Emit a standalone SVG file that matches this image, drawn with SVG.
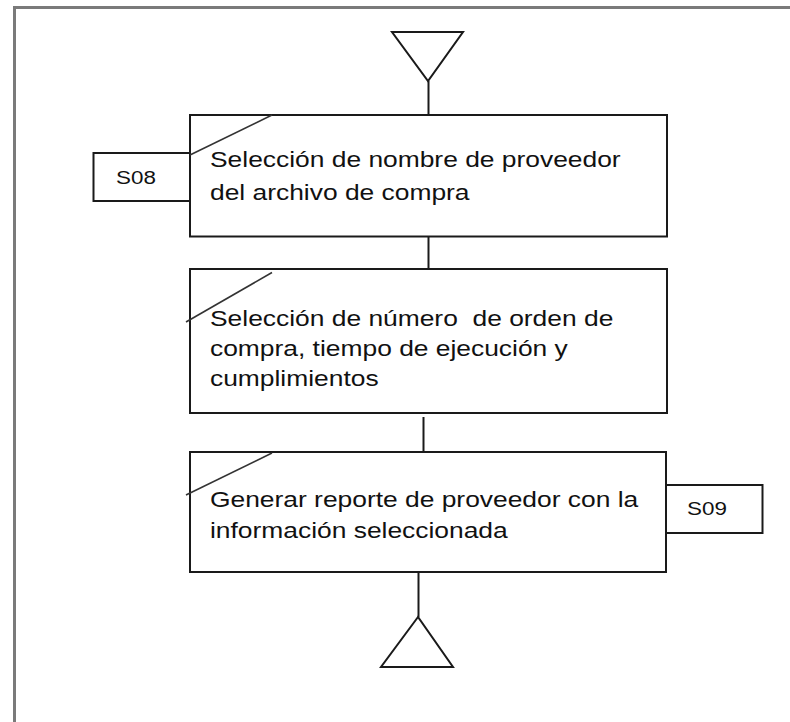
<svg xmlns="http://www.w3.org/2000/svg" width="790" height="722" viewBox="0 0 790 722">
<style>
.frame{fill:none;stroke:#7a7a7a;stroke-width:3}
.box{fill:#fff;stroke:#1a1a1a;stroke-width:2}
.ln{fill:none;stroke:#1a1a1a;stroke-width:2}
.diag{fill:none;stroke:#333;stroke-width:1.6}
.t{font-family:"Liberation Sans",Arial,sans-serif;font-size:22px;fill:#111;white-space:pre}
.s{font-family:"Liberation Sans",Arial,sans-serif;font-size:19px;fill:#111}
</style>
<rect width="790" height="722" fill="#fff"/>
<path class="frame" d="M14.5 722 V7.5 H790"/>
<g id="connectors">
<line class="ln" x1="428.5" y1="81" x2="428.5" y2="115"/>
<line class="ln" x1="428.5" y1="236" x2="428.5" y2="269"/>
<line class="ln" x1="423.5" y1="417" x2="423.5" y2="452"/>
<line class="ln" x1="418.5" y1="572" x2="418.5" y2="617"/>
</g>
<g id="start">
<polygon class="ln" points="392,32 463,32 428,81"/>
</g>
<g id="s08">
<rect class="box" x="93.5" y="153" width="96.5" height="48"/>
<text class="s" transform="translate(116 184) scale(1.18 1)">S08</text>
</g>
<g id="p1">
<rect class="box" x="190" y="115" width="477" height="121.5"/>
<line class="diag" x1="190" y1="155" x2="272" y2="115"/>
<text class="t" transform="translate(210 167) scale(1.2 1)">Selección de nombre de proveedor</text>
<text class="t" transform="translate(210 200) scale(1.2 1)">del archivo de compra</text>
</g>
<g id="p2">
<rect class="box" x="190" y="269" width="477" height="144"/>
<line class="diag" x1="186" y1="322" x2="272" y2="272.5"/>
<text class="t" transform="translate(210 326) scale(1.2 1)">Selección de número  de orden de</text>
<text class="t" transform="translate(210 356) scale(1.2 1)">compra, tiempo de ejecución y</text>
<text class="t" transform="translate(210 386) scale(1.2 1)">cumplimientos</text>
</g>
<g id="p3">
<rect class="box" x="190" y="452" width="476" height="120"/>
<line class="diag" x1="186" y1="495" x2="272" y2="453"/>
<text class="t" transform="translate(210 507) scale(1.2 1)">Generar reporte de proveedor con la</text>
<text class="t" transform="translate(210 538) scale(1.2 1)">información seleccionada</text>
</g>
<g id="s09">
<rect class="box" x="666" y="485" width="96.5" height="48"/>
<text class="s" transform="translate(687 515) scale(1.18 1)">S09</text>
</g>
<g id="end">
<polygon class="ln" points="418,617 381,667 453,667"/>
</g>
</svg>
